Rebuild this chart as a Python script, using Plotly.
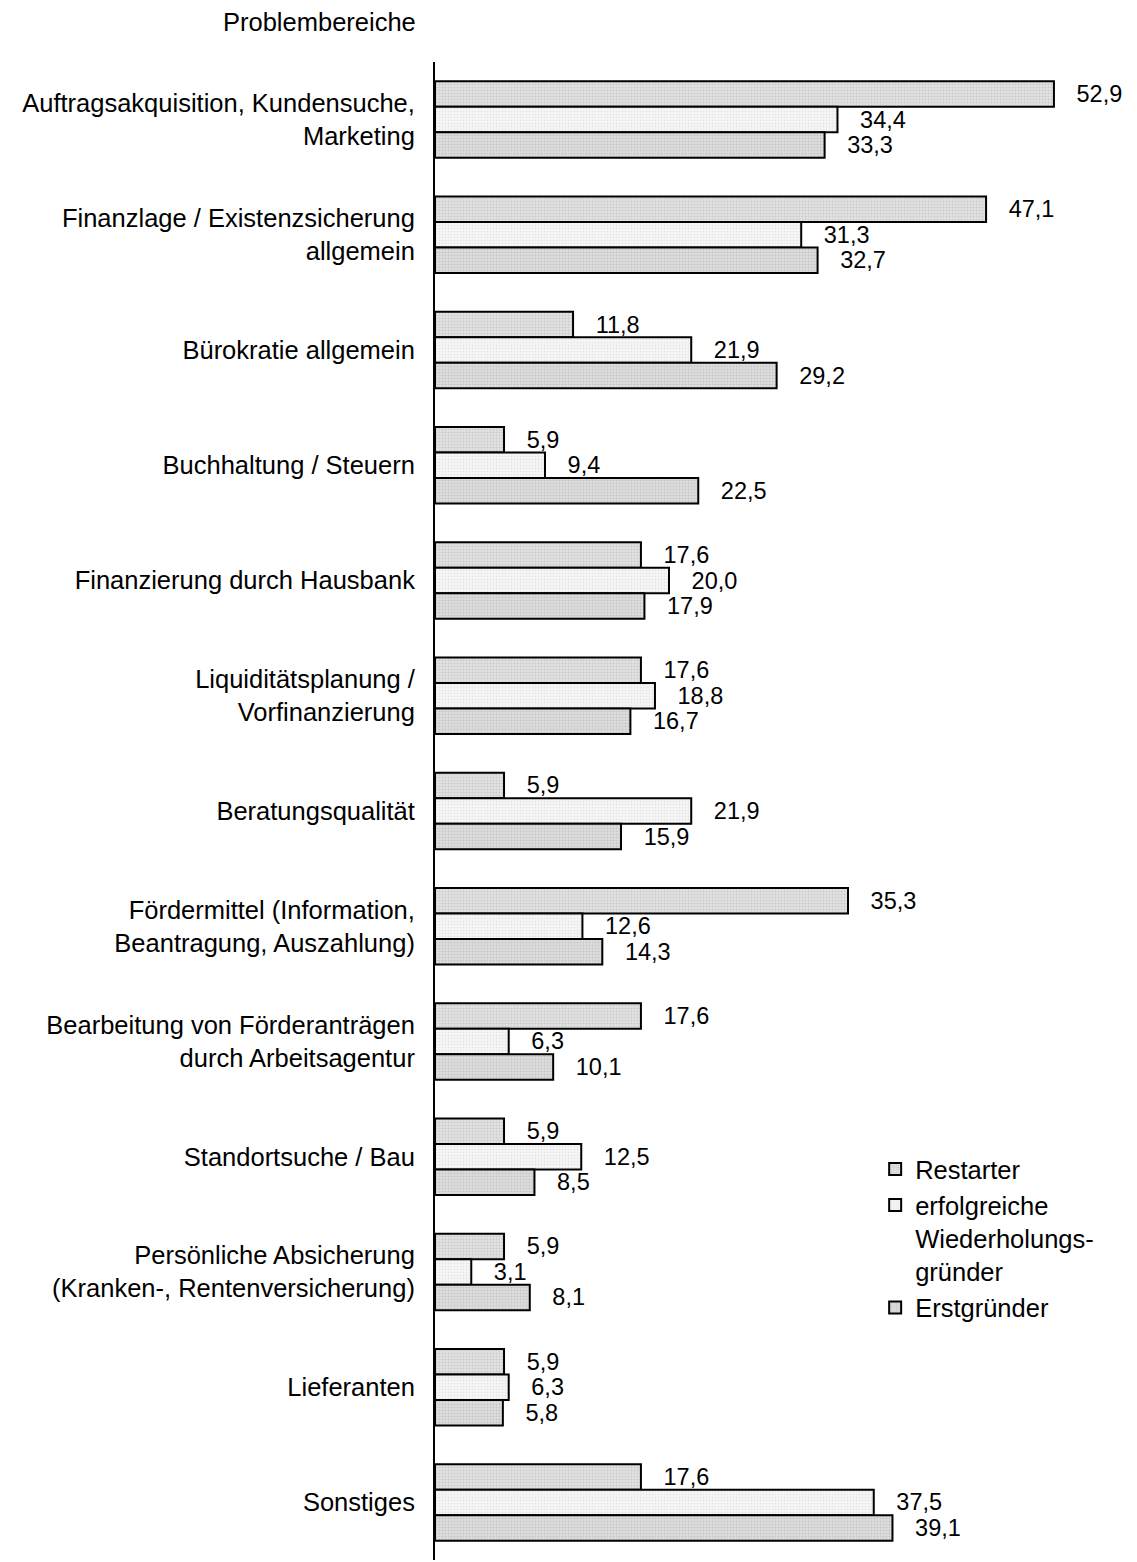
import plotly.graph_objects as go

categories = [
    "Auftragsakquisition, Kundensuche,<br>Marketing",
    "Finanzlage / Existenzsicherung<br>allgemein",
    "Bürokratie allgemein",
    "Buchhaltung / Steuern",
    "Finanzierung durch Hausbank",
    "Liquiditätsplanung /<br>Vorfinanzierung",
    "Beratungsqualität",
    "Fördermittel (Information,<br>Beantragung, Auszahlung)",
    "Bearbeitung von Förderanträgen<br>durch Arbeitsagentur",
    "Standortsuche / Bau",
    "Persönliche Absicherung<br>(Kranken-, Rentenversicherung)",
    "Lieferanten",
    "Sonstiges",
]
restarter = [52.9, 47.1, 11.8, 5.9, 17.6, 17.6, 5.9, 35.3, 17.6, 5.9, 5.9, 5.9, 17.6]
erfolgreiche = [34.4, 31.3, 21.9, 9.4, 20.0, 18.8, 21.9, 12.6, 6.3, 12.5, 3.1, 6.3, 37.5]
erstgruender = [33.3, 32.7, 29.2, 22.5, 17.9, 16.7, 15.9, 14.3, 10.1, 8.5, 8.1, 5.8, 39.1]

series = [
    ("Restarter", restarter, "#e2e2e2", "#b4b4b4"),
    ("erfolgreiche<br>Wiederholungs-<br>gründer", erfolgreiche, "#f7f7f7", "#d4d4d4"),
    ("Erstgründer", erstgruender, "#dedede", "#acacac"),
]

FONT = "Liberation Sans, Arial, sans-serif"
fig = go.Figure()
for name, vals, col, fg in series:
    fig.add_trace(go.Bar(
        y=categories, x=vals, name=name, orientation="h",
        marker=dict(color=col, line=dict(color="black", width=2),
                    pattern=dict(shape=".", fgcolor=fg, bgcolor=col, size=3, solidity=0.35)),
        text=["\u00a0\u00a0\u00a0" + f"{v:.1f}".replace(".", ",") for v in vals],
        textposition="outside", constraintext="none", cliponaxis=False,
        textfont=dict(family=FONT, size=23.5, color="black"),
    ))

fig.update_layout(
    width=1129, height=1554,
    margin=dict(l=427, r=0, t=54, b=2),
    barmode="group", bargap=0.336, bargroupgap=0,
    plot_bgcolor="white", paper_bgcolor="white",
    font=dict(family=FONT, size=25.5, color="black"),
    xaxis=dict(range=[0, 60], visible=False),
    yaxis=dict(autorange="reversed", showline=True, linecolor="black", linewidth=2,
               ticks="", ticklabelstandoff=13, showgrid=False,
               tickfont=dict(family=FONT, size=25.5, color="black")),
    legend=dict(x=0.627, y=0.2765, xanchor="left", yanchor="top", valign="top",
                font=dict(family=FONT, size=25.5, color="black"),
                bgcolor="rgba(0,0,0,0)", tracegroupgap=4),
    showlegend=True,
    annotations=[dict(text="Problembereiche", x=-0.0245, y=1.0267, xref="paper", yref="paper",
                      xanchor="right", yanchor="middle", showarrow=False,
                      font=dict(family=FONT, size=25.5, color="black"))],
)
fig.write_html("out.html")
